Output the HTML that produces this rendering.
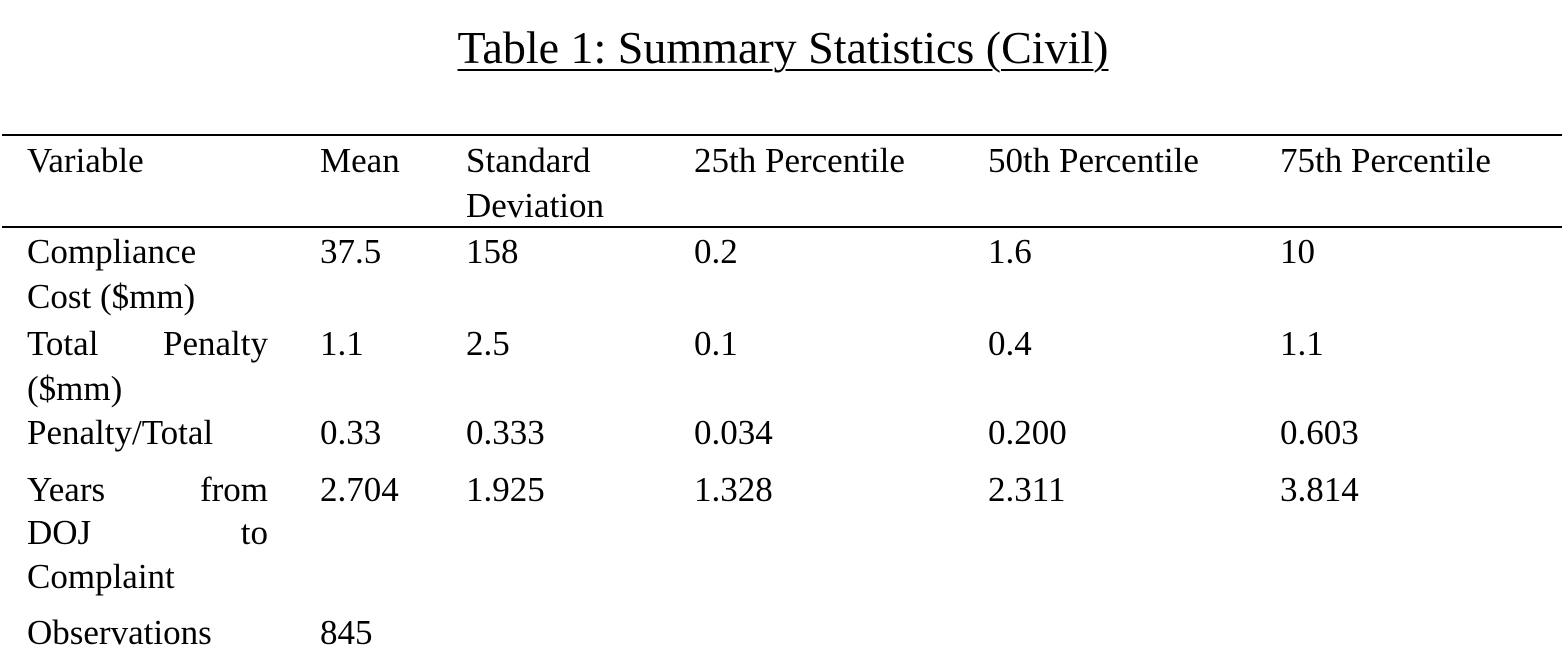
<!DOCTYPE html>
<html><head><meta charset="utf-8"><style>
body{margin:0;width:1566px;height:654px;background:#fff;overflow:hidden;position:relative;font-family:"Liberation Serif",serif;color:#000}
.t{position:absolute;font-size:35px;line-height:45px;white-space:nowrap}
.j{position:absolute;font-size:35px;line-height:45px;width:241px;display:flex;justify-content:space-between}
.rule{position:absolute;left:2px;width:1560px;height:2px;background:#000}
</style></head><body>
<div style="position:absolute;left:0;width:1566px;top:22px;text-align:center;font-size:46px;line-height:52px"><span style="text-decoration:underline;text-underline-offset:6px;text-decoration-thickness:2px">Table 1: Summary Statistics (Civil)</span></div>
<div class="rule" style="top:134px"></div>
<div class="rule" style="top:226px"></div>
<div>
<div class="t" style="left:27px;top:138px">Variable</div>
<div class="t" style="left:320px;top:138px">Mean</div>
<div class="t" style="left:466px;top:138px">Standard<br>Deviation</div>
<div class="t" style="left:694px;top:138px">25th Percentile</div>
<div class="t" style="left:988px;top:138px">50th Percentile</div>
<div class="t" style="left:1280px;top:138px">75th Percentile</div>
</div>
<div>
<div class="t" style="left:27px;top:229px">Compliance<br>Cost ($mm)</div>
<div class="t" style="left:320px;top:229px">37.5</div>
<div class="t" style="left:466px;top:229px">158</div>
<div class="t" style="left:694px;top:229px">0.2</div>
<div class="t" style="left:988px;top:229px">1.6</div>
<div class="t" style="left:1280px;top:229px">10</div>
</div>
<div>
<div class="j" style="left:27px;top:321px"><span>Total</span><span>Penalty</span></div>
<div class="t" style="left:27px;top:366px">($mm)</div>
<div class="t" style="left:320px;top:321px">1.1</div>
<div class="t" style="left:466px;top:321px">2.5</div>
<div class="t" style="left:694px;top:321px">0.1</div>
<div class="t" style="left:988px;top:321px">0.4</div>
<div class="t" style="left:1280px;top:321px">1.1</div>
</div>
<div>
<div class="t" style="left:27px;top:410px">Penalty/Total</div>
<div class="t" style="left:320px;top:410px">0.33</div>
<div class="t" style="left:466px;top:410px">0.333</div>
<div class="t" style="left:694px;top:410px">0.034</div>
<div class="t" style="left:988px;top:410px">0.200</div>
<div class="t" style="left:1280px;top:410px">0.603</div>
</div>
<div>
<div class="j" style="left:27px;top:467px"><span>Years</span><span>from</span></div>
<div class="j" style="left:27px;top:510px"><span>DOJ</span><span>to</span></div>
<div class="t" style="left:27px;top:554px">Complaint</div>
<div class="t" style="left:320px;top:467px">2.704</div>
<div class="t" style="left:466px;top:467px">1.925</div>
<div class="t" style="left:694px;top:467px">1.328</div>
<div class="t" style="left:988px;top:467px">2.311</div>
<div class="t" style="left:1280px;top:467px">3.814</div>
</div>
<div>
<div class="t" style="left:27px;top:610px">Observations</div>
<div class="t" style="left:320px;top:610px">845</div>
</div>
</body></html>
